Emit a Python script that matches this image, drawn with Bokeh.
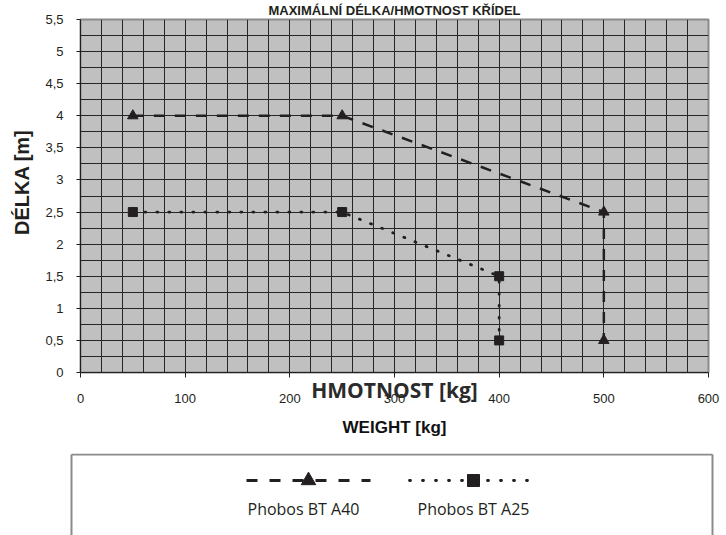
from bokeh.plotting import figure
from bokeh.models import FixedTicker, Range1d, Title
from bokeh.layouts import column
from bokeh.embed import file_html
from bokeh.resources import INLINE
from bokeh.core.properties import value

# ---------------- data ----------------
series_names = ["Phobos BT A40", "Phobos BT A25"]
weight_a40 = [50, 250, 500, 500]
length_a40 = [4, 4, 2.5, 0.5]
weight_a25 = [50, 250, 400, 400]
length_a25 = [2.5, 2.5, 1.5, 0.5]

x_ticks = [0, 100, 200, 300, 400, 500, 600]
x_tick_labels = ["0", "100", "200", "300", "400", "500", "600"]
y_ticks = [0, 0.5, 1, 1.5, 2, 2.5, 3, 3.5, 4, 4.5, 5, 5.5]
y_tick_labels = ["0", "0,5", "1", "1,5", "2", "2,5", "3", "3,5", "4", "4,5", "5", "5,5"]

title_text = "MAXIMÁLNÍ DÉLKA/HMOTNOST KŘÍDEL"
y_title = "DÉLKA [m]"
x_title_cz = "HMOTNOST [kg]"
x_title_en = "WEIGHT [kg]"

# ---------------- style ----------------
INK = "#231f20"
GRID = "#262626"
FRAME_BG = "#c0c0c0"
BORDER = "#8a8a8a"
ARIAL = "Liberation Sans"

p = figure(width=726, height=453, frame_width=628, frame_height=353,
           min_border_left=80, min_border_right=18, min_border_top=19, min_border_bottom=81,
           x_range=Range1d(0, 600), y_range=Range1d(0, 5.5),
           title=title_text, output_backend="svg", toolbar_location=None)
try:
    p.frame_align = False
except AttributeError:
    pass
p.background_fill_color = FRAME_BG
p.border_fill_color = "white"
p.outline_line_color = BORDER
p.outline_line_width = 2

p.title.align = "center"
p.title.vertical_align = "top"
p.title.standoff = 0
p.title.text_font = ARIAL
p.title.text_font_style = "bold"
p.title.text_font_size = "13px"
p.title.text_color = INK

p.xgrid.ticker = FixedTicker(ticks=list(range(0, 601, 20)))
p.ygrid.ticker = FixedTicker(ticks=[i * 0.25 for i in range(23)])
p.grid.grid_line_color = GRID
p.grid.grid_line_width = 1
p.grid.grid_line_alpha = 1

p.xaxis.ticker = FixedTicker(ticks=x_ticks)
p.xaxis.major_label_overrides = {float(t): l for t, l in zip(x_ticks, x_tick_labels)}
p.yaxis.ticker = FixedTicker(ticks=y_ticks)
p.yaxis.major_label_overrides = {float(t): l for t, l in zip(y_ticks, y_tick_labels)}

for ax in (p.xaxis[0], p.yaxis[0]):
    ax.axis_line_color = INK
    ax.axis_line_width = 1
    ax.major_tick_line_color = INK
    ax.major_tick_in = 0
    ax.minor_tick_line_color = None
    ax.major_label_text_font = ARIAL
    ax.major_label_text_font_size = "13px"
    ax.major_label_text_color = INK

p.yaxis.major_tick_out = 4
p.yaxis.major_label_standoff = 13
p.xaxis.major_tick_out = 5
p.xaxis.major_label_standoff = 16

# Czech axis title overlapping the tick-label row, as in the reference
p.xaxis.axis_label = x_title_cz
p.xaxis.axis_label_text_font = "Open Sans"
p.xaxis.axis_label_text_font_style = "bold"
p.xaxis.axis_label_text_font_size = "21px"
p.xaxis.axis_label_text_color = "#2b2b2b"
p.xaxis.axis_label_standoff = -30

# English axis title below
p.add_layout(Title(text=x_title_en, align="center", vertical_align="top", standoff=23,
                   text_font=ARIAL, text_font_style="bold", text_font_size="17px",
                   text_color="#111111"), "below")

# vertical axis title
p.add_layout(Title(text=y_title, align="right", offset=110, vertical_align="middle", standoff=18,
                   text_font=ARIAL, text_font_style="bold", text_font_size="20px",
                   text_color=INK), "left")

# series
p.line(weight_a40, length_a40, line_color=INK, line_width=2.5, line_dash="11 10")
p.scatter(weight_a40, length_a40, marker="triangle", size=10.5, fill_color=INK, line_color=INK)
p.line(weight_a25, length_a25, line_color=INK, line_width=2.8, line_dash="1 11", line_cap="round")
p.scatter(weight_a25, length_a25, marker="square", size=9, fill_color=INK, line_color=INK)

# ---------------- legend panel (page-pixel coordinates) ----------------
leg = figure(width=726, height=82, x_range=Range1d(0, 726), y_range=Range1d(535, 453),
             x_axis_type=None, y_axis_type=None,
             min_border_left=0, min_border_right=0, min_border_top=0, min_border_bottom=0,
             output_backend="svg", toolbar_location=None)
try:
    leg.frame_align = False
except AttributeError:
    pass
leg.outline_line_color = None
leg.grid.visible = False
leg.background_fill_color = "white"
leg.border_fill_color = "white"

box_l, box_r, box_t, box_b = 71, 712, 454, 540
leg.segment(x0=[box_l, box_r, box_l], y0=[box_t, box_t, box_t],
            x1=[box_l, box_r, box_r], y1=[box_b, box_b, box_t],
            line_color=BORDER, line_width=2)

sample_y, text_y = 480, 508
# series 1 sample: dashed with triangle
leg.line([246, 370], [sample_y, sample_y], line_color=INK, line_width=3, line_dash="11 12")
leg.scatter([308], [sample_y], marker="triangle", size=14.5, fill_color=INK, line_color=INK)
# series 2 sample: dotted with square
leg.line([409, 537], [sample_y, sample_y], line_color=INK, line_width=2.8, line_dash="1 12",
         line_cap="round")
leg.scatter([473], [sample_y], marker="square", size=12, fill_color=INK, line_color=INK)
leg.text(x=[303, 473], y=[text_y, text_y], text=series_names, text_align="center",
         text_baseline="middle", text_font=value("Open Sans"), text_font_size="16px",
         text_color=INK)

layout = column(p, leg, spacing=0)
open("out.html", "w").write(file_html(layout, INLINE))
